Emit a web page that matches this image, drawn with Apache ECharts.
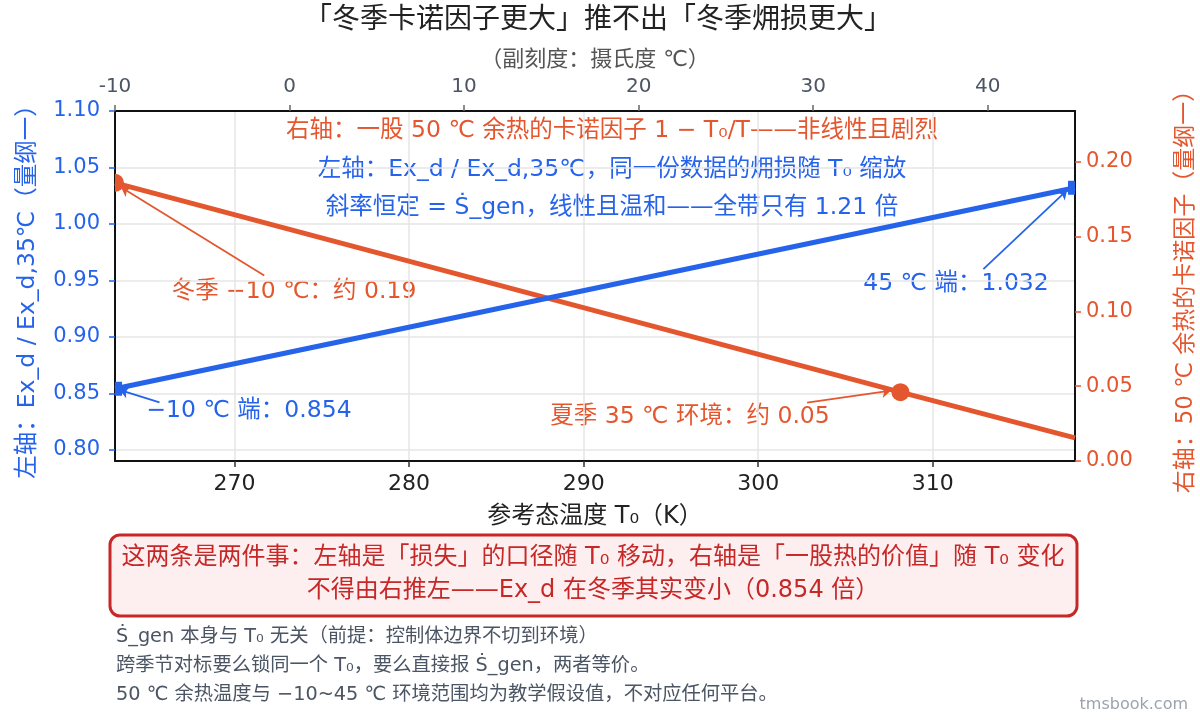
<!DOCTYPE html>
<html>
<head>
<meta charset="utf-8">
<script src="https://cdn.jsdelivr.net/npm/echarts@6/dist/echarts.min.js"></script>
<style>
  html, body { margin: 0; padding: 0; background: #fff; }
  #main { width: 1200px; height: 720px; }
</style>
</head>
<body>
<div id="main"></div>
<script>
// 数据：参考态温度 T0 (K)，两条曲线的端点/标记点
var tempK = [263.15, 308.15, 318.15];
var exRatio = [0.854, 0.946, 1.032];        // 左轴 Ex_d / Ex_d,35℃
var carnot = [0.186, 0.046, 0.0155];        // 右轴 1 - T0/323.15
var bottomTicks = [270, 280, 290, 300, 310];
var topTicks = [-10, 0, 10, 20, 30, 40];
var leftTicks = [0.80, 0.85, 0.90, 0.95, 1.00, 1.05, 1.10];
var rightTicks = [0.00, 0.05, 0.10, 0.15, 0.20];

var BLUE = '#2563EB';
var ORANGE = '#E4572E';
var RED = '#C62828';
var FONT = '"DejaVu Sans", "Noto Sans CJK SC"';

function txt(x, y, s, color, size, align) {
    return {
        type: 'text', x: x, y: y, silent: true,
        style: {
            text: s, fill: color, font: size + 'px ' + FONT,
            align: align || 'center', verticalAlign: 'middle'
        }
    };
}

var myChart = echarts.init(document.getElementById('main'));

// 端点标记被坐标框裁掉一半
var halfRect = 'path://M0,0 L10,0 L10,20 L0,20 Z';
var halfCircleR = 'path://M0,0 A10,10 0 0 1 0,20 Z';

myChart.setOption({
    textStyle: { fontFamily: FONT },
    animation: false,
    grid: { left: 115, right: 125, top: 111, bottom: 259, outerBoundsMode: 'none', containLabel: false },
    xAxis: [{
        type: 'value',
        position: 'bottom',
        min: 263.15,
        max: 318.15,
        name: '参考态温度 T₀（K）',
        nameLocation: 'middle',
        nameGap: 44,
        nameTextStyle: { fontSize: 24, color: '#222' },
        axisLine: { onZero: false, lineStyle: { color: '#111', width: 2 } },
        axisTick: { customValues: bottomTicks, length: 6, lineStyle: { color: '#333', width: 1.5 } },
        axisLabel: { customValues: bottomTicks, fontSize: 22, color: '#222', margin: 12 },
        splitLine: { show: true, lineStyle: { color: '#e6e6e6', width: 1.5 } }
    }, {
        type: 'value',
        position: 'top',
        min: -10,
        max: 45,
        name: '（副刻度：摄氏度 ℃）',
        nameLocation: 'middle',
        nameGap: 40,
        nameTextStyle: { fontSize: 22, color: '#555' },
        axisLine: { onZero: false, lineStyle: { color: '#111', width: 2 } },
        axisTick: { customValues: topTicks, length: 6, lineStyle: { color: '#666', width: 1.5 } },
        axisLabel: { customValues: topTicks, fontSize: 20, color: '#4B5563', margin: 14 },
        splitLine: { show: false }
    }],
    yAxis: [{
        type: 'value',
        position: 'left',
        min: 0.79,
        max: 1.10,
        name: '左轴：Ex_d / Ex_d,35℃（量纲一）',
        nameLocation: 'middle',
        nameRotate: 90,
        nameGap: 75,
        nameTextStyle: { fontSize: 23.5, color: BLUE },
        axisLine: { show: true, onZero: false, lineStyle: { color: '#111', width: 2 } },
        axisTick: { show: true, customValues: leftTicks, length: 6, lineStyle: { color: BLUE, width: 1.5 } },
        axisLabel: {
            customValues: leftTicks, fontSize: 21, color: BLUE, margin: 15,
            formatter: function (v) { return v.toFixed(2); }
        },
        splitLine: { show: true, lineStyle: { color: '#e6e6e6', width: 1.5 } }
    }, {
        type: 'value',
        position: 'right',
        min: 0,
        max: 0.234,
        name: '右轴：50 ℃ 余热的卡诺因子（量纲一）',
        nameLocation: 'middle',
        nameRotate: 90,
        nameGap: 100,
        nameTextStyle: { fontSize: 23, color: ORANGE },
        axisLine: { show: true, onZero: false, lineStyle: { color: '#111', width: 2 } },
        axisTick: { show: true, customValues: rightTicks, length: 6, lineStyle: { color: ORANGE, width: 1.5 } },
        axisLabel: {
            customValues: rightTicks, fontSize: 21, color: ORANGE, margin: 11,
            formatter: function (v) { return v.toFixed(2); }
        },
        splitLine: { show: false }
    }],
    series: [{
        name: '卡诺因子',
        type: 'line',
        xAxisIndex: 0,
        yAxisIndex: 1,
        lineStyle: { color: ORANGE, width: 5 },
        itemStyle: { color: ORANGE },
        data: [
            { value: [tempK[0], carnot[0]], symbol: halfCircleR, symbolSize: [9, 18], symbolOffset: [4.5, 0] },
            { value: [tempK[1], carnot[1]], symbol: 'circle', symbolSize: 18 },
            { value: [tempK[2], carnot[2]], symbol: 'none' }
        ],
        markLine: {
            silent: true,
            symbol: ['none', 'arrow'],
            symbolSize: 9,
            label: { show: false },
            lineStyle: { color: ORANGE, width: 1.8, type: 'solid' },
            data: [
                [{ coord: [271.7, 0.124] }, { coord: [263.5, 0.183] }],
                [{ coord: [302.8, 0.039] }, { coord: [307.6, 0.047] }]
            ]
        },
        z: 3
    }, {
        name: '㶲损比',
        type: 'line',
        xAxisIndex: 0,
        yAxisIndex: 0,
        lineStyle: { color: BLUE, width: 5 },
        itemStyle: { color: BLUE },
        data: [
            { value: [tempK[0], exRatio[0]], symbol: halfRect, symbolSize: [7, 14], symbolOffset: [3.5, 0] },
            { value: [tempK[2], exRatio[2]], symbol: halfRect, symbolSize: [7, 14], symbolOffset: [-3.5, 0] }
        ],
        markLine: {
            silent: true,
            symbol: ['none', 'arrow'],
            symbolSize: 9,
            label: { show: false },
            lineStyle: { color: BLUE, width: 1.8, type: 'solid' },
            data: [
                [{ coord: [312.9, 0.960] }, { coord: [317.7, 1.030] }],
                [{ coord: [265.7, 0.842] }, { coord: [263.4, 0.853] }]
            ]
        },
        z: 4
    }],
    graphic: [
        txt(598, 21, '「冬季卡诺因子更大」推不出「冬季㶲损更大」', '#222', 28),
        txt(612, 131, '右轴：一股 50 ℃ 余热的卡诺因子 1 − T₀/T——非线性且剧烈', ORANGE, 23.5),
        txt(612, 170, '左轴：Ex_d / Ex_d,35℃，同一份数据的㶲损随 T₀ 缩放', BLUE, 23.5),
        txt(612, 208, '斜率恒定 = \u1E60_gen，线性且温和——全带只有 1.21 倍', BLUE, 23.5),
        txt(294, 292, '冬季 −10 ℃：约 0.19', ORANGE, 23.5),
        txt(956, 284, '45 ℃ 端：1.032', BLUE, 23.5),
        txt(249, 411, '−10 ℃ 端：0.854', BLUE, 23.5),
        txt(690, 417, '夏季 35 ℃ 环境：约 0.05', ORANGE, 23.5),
        {
            type: 'rect', x: 110, y: 535, silent: true,
            shape: { width: 967, height: 81, r: 10 },
            style: { fill: '#FDEFEF', stroke: RED, lineWidth: 3 }
        },
        txt(593, 558, '这两条是两件事：左轴是「损失」的口径随 T₀ 移动，右轴是「一股热的价值」随 T₀ 变化', RED, 24),
        txt(593, 591, '不得由右推左——Ex_d 在冬季其实变小（0.854 倍）', RED, 24),
        txt(116, 637, '\u1E60_gen 本身与 T₀ 无关（前提：控制体边界不切到环境）', '#4B5563', 19.3, 'left'),
        txt(116, 666, '跨季节对标要么锁同一个 T₀，要么直接报 \u1E60_gen，两者等价。', '#4B5563', 19.3, 'left'),
        txt(116, 695, '50 ℃ 余热温度与 −10~45 ℃ 环境范围均为教学假设值，不对应任何平台。', '#4B5563', 19.3, 'left'),
        txt(1188, 705, 'tmsbook.com', '#9CA3AF', 16, 'right')
    ]
});
</script>
</body>
</html>
